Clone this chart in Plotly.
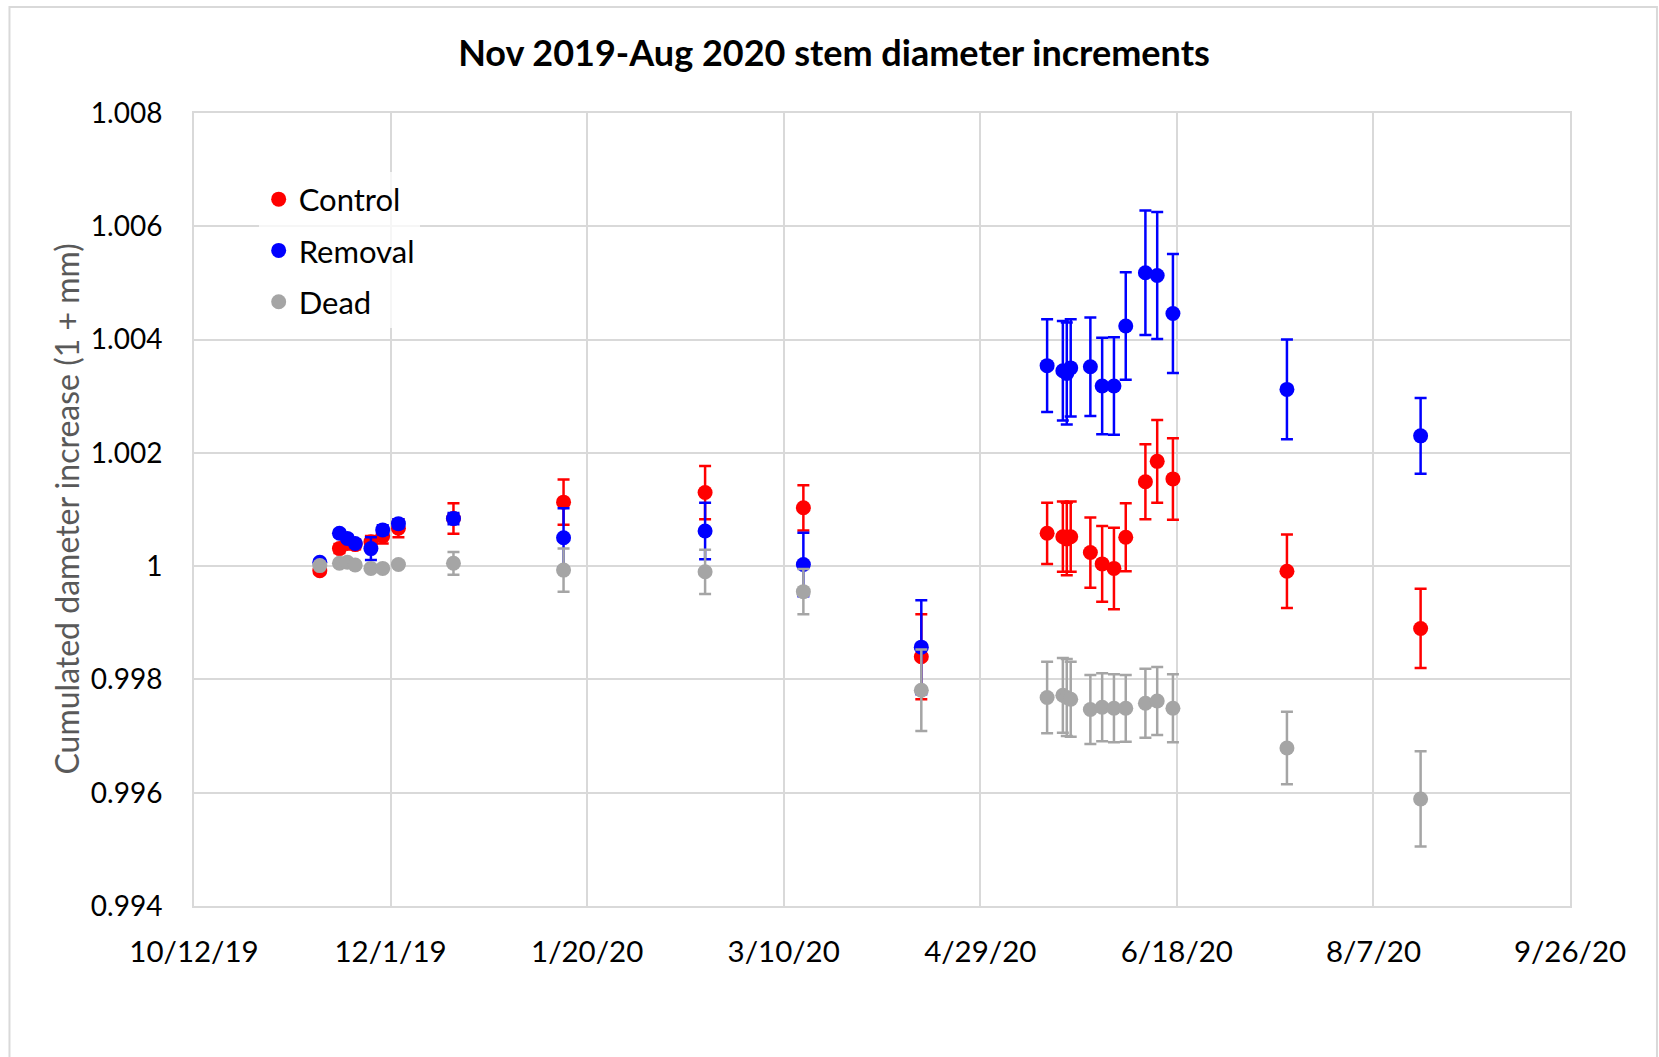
import plotly.graph_objects as go

# Measurement dates (shared by all three treatments)
dates = [
    "2019-11-13", "2019-11-18", "2019-11-20", "2019-11-22", "2019-11-26",
    "2019-11-29", "2019-12-03", "2019-12-17", "2020-01-14", "2020-02-19",
    "2020-03-15", "2020-04-14", "2020-05-16", "2020-05-20", "2020-05-21",
    "2020-05-22", "2020-05-27", "2020-05-30", "2020-06-02", "2020-06-05",
    "2020-06-10", "2020-06-13", "2020-06-17", "2020-07-16", "2020-08-19",
]

control = [
    0.99992, 1.00031, 1.00040, 1.00038, 1.00043,
    1.00053, 1.00067, 1.00084, 1.00113, 1.00130,
    1.00103, 0.99840, 1.00058, 1.00052, 1.00048,
    1.00052, 1.00024, 1.00004, 0.99996, 1.00051,
    1.00149, 1.00185, 1.00154, 0.99991, 0.99890,
]
control_err = [
    0.00006, 0.00008, 0.00008, 0.00008, 0.00010,
    0.00013, 0.00016, 0.00027, 0.00040, 0.00047,
    0.00040, 0.00075, 0.00054, 0.00062, 0.00064,
    0.00062, 0.00062, 0.00067, 0.00072, 0.00060,
    0.00066, 0.00073, 0.00072, 0.00065, 0.00070,
]

removal = [
    1.00007, 1.00058, 1.00049, 1.00040, 1.00031,
    1.00064, 1.00075, 1.00084, 1.00050, 1.00062,
    1.00003, 0.99857, 1.00354, 1.00345, 1.00340,
    1.00350, 1.00352, 1.00318, 1.00318, 1.00424,
    1.00518, 1.00513, 1.00446, 1.00312, 1.00230,
]
removal_err = [
    0.00005, 0.00006, 0.00006, 0.00006, 0.00020,
    0.00008, 0.00008, 0.00010, 0.00052, 0.00050,
    0.00056, 0.00083, 0.00082, 0.00088, 0.00090,
    0.00086, 0.00087, 0.00085, 0.00086, 0.00095,
    0.00110, 0.00112, 0.00105, 0.00088, 0.00067,
]

dead = [
    1.00001, 1.00005, 1.00007, 1.00002, 0.99996,
    0.99996, 1.00003, 1.00005, 0.99993, 0.99990,
    0.99955, 0.99781, 0.99768, 0.99772, 0.99768,
    0.99765, 0.99747, 0.99751, 0.99749, 0.99749,
    0.99758, 0.99762, 0.99749, 0.99679, 0.99589,
]
dead_err = [
    0.00004, 0.00005, 0.00005, 0.00005, 0.00005,
    0.00005, 0.00005, 0.00020, 0.00038, 0.00039,
    0.00040, 0.00072, 0.00063, 0.00066, 0.00068,
    0.00066, 0.00061, 0.00060, 0.00060, 0.00059,
    0.00061, 0.00060, 0.00060, 0.00064, 0.00084,
]

x_tickvals = ["2019-10-12", "2019-12-01", "2020-01-20", "2020-03-10",
              "2020-04-29", "2020-06-18", "2020-08-07", "2020-09-26"]
x_ticktext = ["10/12/19", "12/1/19", "1/20/20", "3/10/20",
              "4/29/20", "6/18/20", "8/7/20", "9/26/20"]
y_tickvals = [0.994, 0.996, 0.998, 1.000, 1.002, 1.004, 1.006, 1.008]
y_ticktext = ["0.994", "0.996", "0.998", "1", "1.002", "1.004", "1.006", "1.008"]

FONT = "Lato, 'Open Sans', sans-serif"
GRID = "#D9D9D9"

series = [
    ("Control", control, control_err, "#FF0000"),
    ("Removal", removal, removal_err, "#0000FF"),
    ("Dead", dead, dead_err, "#A5A5A5"),
]

fig = go.Figure()
for name, vals, errs, color in series:
    fig.add_trace(go.Scatter(
        x=dates, y=vals, mode="markers", name=name, legendgroup=name,
        marker=dict(color=color, size=15),
        error_y=dict(type="data", array=errs, symmetric=True,
                     color=color, thickness=2.5, width=6),
    ))

fig.update_layout(
    width=1659, height=1057,
    margin=dict(l=194, r=89, t=113, b=151),
    paper_bgcolor="white", plot_bgcolor="white",
    font=dict(family=FONT, color="#000000", size=28),
    title=dict(
        text="<b>Nov 2019-Aug 2020 stem diameter increments</b>",
        font=dict(family=FONT, size=36, color="#000000"),
        xref="container", x=834 / 1659, xanchor="center",
        yref="container", y=1 - 53 / 1057, yanchor="middle",
    ),
    showlegend=True,
    legend=dict(
        x=0.047, y=0.925, xanchor="left", yanchor="top",
        bgcolor="rgba(255,255,255,0.75)",
        font=dict(family=FONT, size=31, color="#000000"),
        tracegroupgap=8,
        entrywidth=170,
    ),
    xaxis=dict(
        type="date", range=["2019-10-12", "2020-09-26"],
        tickvals=x_tickvals, ticktext=x_ticktext,
        showgrid=True, gridcolor=GRID, gridwidth=2,
        showline=True, linecolor=GRID, linewidth=2, mirror=True,
        zeroline=False, ticks="", ticklabelstandoff=19,
        tickfont=dict(family=FONT, size=29.5, color="#000000"),
    ),
    yaxis=dict(
        range=[0.994, 1.008],
        tickvals=y_tickvals, ticktext=y_ticktext,
        showgrid=True, gridcolor=GRID, gridwidth=2,
        showline=True, linecolor=GRID, linewidth=2, mirror=True,
        zeroline=False, ticks="", ticklabelstandoff=24,
        tickfont=dict(family=FONT, size=28, color="#000000"),
    ),
    annotations=[dict(
        text="Cumulated dameter increase (1 + mm)",
        xref="paper", yref="paper", x=-0.093, y=0.5,
        xanchor="center", yanchor="middle", textangle=-90,
        showarrow=False,
        font=dict(family=FONT, size=32, color="#595959"),
    )],
    shapes=[dict(
        type="rect", xref="paper", yref="paper",
        x0=-0.1341, x1=1.0632, y0=-0.25, y1=1.1337,
        line=dict(color=GRID, width=2), fillcolor="rgba(0,0,0,0)",
        layer="below",
    )],
)

fig.write_html("out.html")
